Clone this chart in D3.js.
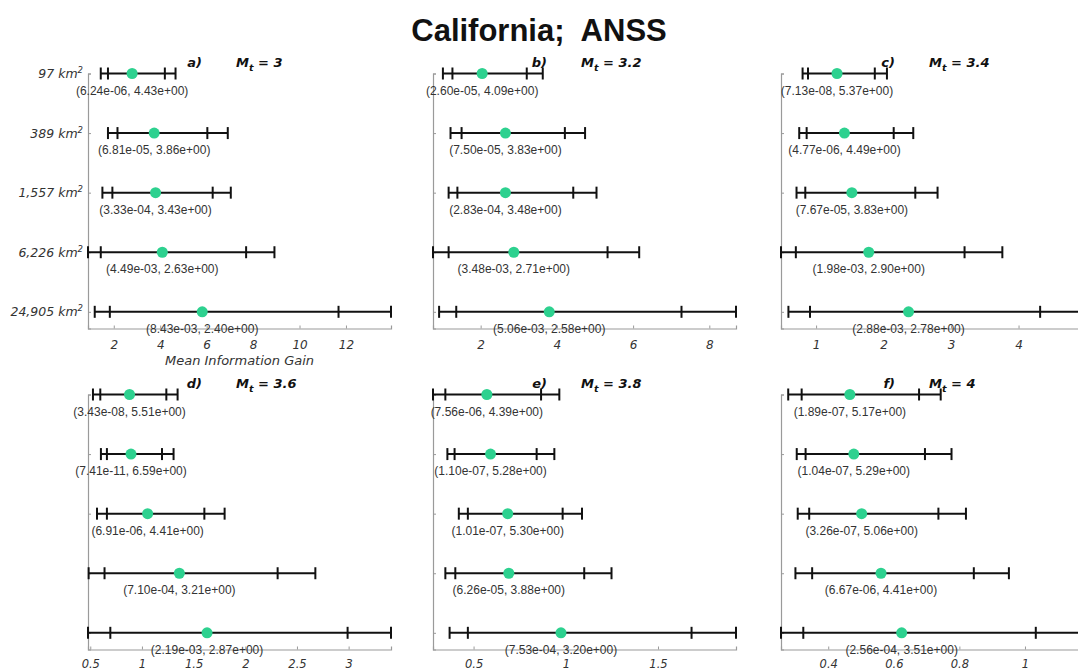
<!DOCTYPE html>
<html>
<head>
<meta charset="utf-8">
<script src="https://cdn.jsdelivr.net/npm/d3@7"></script>
<style>
  html, body { margin: 0; padding: 0; background: #fff; }
  svg { display: block; }
</style>
</head>
<body>
<svg id="chart" width="1078" height="671"></svg>
<script>
// Region sizes (rows of every panel)
const areas = ["97", "389", "1,557", "6,226", "24,905"];

// Panel tags and target magnitudes
const panelTags = ["a)", "b)", "c)", "d)", "e)", "f)"];
const magnitudes = ["3", "3.2", "3.4", "3.6", "3.8", "4"];

// Mean information gain with two nested intervals, one row per region size
const outerLower = [
  [1.44, 1.75, 1.51, 0.89, 1.18],
  [1.01, 1.21, 1.16, 0.75, 0.91],
  [0.80, 0.75, 0.71, 0.48, 0.59],
  [0.526, 0.603, 0.565, 0.484, 0.478],
  [0.28, 0.358, 0.42, 0.347, 0.37],
  [0.278, 0.304, 0.307, 0.30, 0.256]
];
const innerLower = [
  [1.75, 2.16, 1.94, 1.44, 1.83],
  [1.26, 1.50, 1.39, 1.16, 1.36],
  [0.88, 0.86, 0.84, 0.70, 0.91],
  [0.597, 0.661, 0.661, 0.638, 0.694],
  [0.347, 0.397, 0.469, 0.401, 0.469],
  [0.319, 0.331, 0.342, 0.351, 0.324]
];
const meanGain = [
  [2.79, 3.74, 3.80, 4.09, 5.81],
  [2.04, 2.65, 2.65, 2.87, 3.80],
  [1.31, 1.42, 1.53, 1.78, 2.37],
  [0.880, 0.894, 1.055, 1.362, 1.63],
  [0.572, 0.592, 0.685, 0.691, 0.974],
  [0.466, 0.478, 0.502, 0.561, 0.624]
];
const innerUpper = [
  [4.20, 6.03, 6.26, 7.70, 11.68],
  [3.21, 4.21, 4.43, 5.33, 7.27],
  [1.87, 2.15, 2.47, 3.20, 4.32],
  [1.236, 1.194, 1.604, 2.313, 2.99],
  [0.866, 0.842, 0.983, 1.10, 1.682],
  [0.677, 0.695, 0.736, 0.844, 1.033]
];
const outerUpper = [
  [4.66, 6.91, 7.04, 8.92, 13.94],
  [3.63, 4.74, 5.04, 6.16, 8.70],
  [2.05, 2.44, 2.80, 3.76, 4.97],
  [1.345, 1.306, 1.80, 2.678, 3.41],
  [0.965, 0.938, 1.088, 1.248, 1.923],
  [0.743, 0.776, 0.82, 0.951, 1.18]
];

// Test statistics printed under each interval
const statLabels = [
  ["(6.24e-06, 4.43e+00)", "(6.81e-05, 3.86e+00)", "(3.33e-04, 3.43e+00)", "(4.49e-03, 2.63e+00)", "(8.43e-03, 2.40e+00)"],
  ["(2.60e-05, 4.09e+00)", "(7.50e-05, 3.83e+00)", "(2.83e-04, 3.48e+00)", "(3.48e-03, 2.71e+00)", "(5.06e-03, 2.58e+00)"],
  ["(7.13e-08, 5.37e+00)", "(4.77e-06, 4.49e+00)", "(7.67e-05, 3.83e+00)", "(1.98e-03, 2.90e+00)", "(2.88e-03, 2.78e+00)"],
  ["(3.43e-08, 5.51e+00)", "(7.41e-11, 6.59e+00)", "(6.91e-06, 4.41e+00)", "(7.10e-04, 3.21e+00)", "(2.19e-03, 2.87e+00)"],
  ["(7.56e-06, 4.39e+00)", "(1.10e-07, 5.28e+00)", "(1.01e-07, 5.30e+00)", "(6.26e-05, 3.88e+00)", "(7.53e-04, 3.20e+00)"],
  ["(1.89e-07, 5.17e+00)", "(1.04e-07, 5.29e+00)", "(3.26e-07, 5.06e+00)", "(6.67e-06, 4.41e+00)", "(2.56e-04, 3.51e+00)"]
];

// Axis tick values per panel
const xTicks = [
  [2, 4, 6, 8, 10, 12],
  [2, 4, 6, 8],
  [1, 2, 3, 4],
  [0.5, 1, 1.5, 2, 2.5, 3],
  [0.5, 1, 1.5],
  [0.4, 0.6, 0.8, 1]
];

const svg = d3.select("#chart");
const SANS = "'Liberation Sans', Arial, sans-serif";
const WIDE = "'DejaVu Sans', Verdana, sans-serif";
const DOT = "#2dd18f";
const AXIS = "#9a9a9a";

// Figure title
svg.append("text")
  .attr("x", 539).attr("y", 41)
  .attr("text-anchor", "middle")
  .attr("font-family", SANS)
  .attr("font-weight", "bold")
  .attr("font-size", 31)
  .attr("fill", "#111")
  .attr("xml:space", "preserve")
  .text("California;  ANSS");

// Grid of panels: 3 columns x 2 rows
const colLeft = [88, 433, 781];
const rowTop = [73.5, 394.5];
const plotW = 303, plotH = 255;

panelTags.forEach((tag, p) => {
  const left = colLeft[p % 3];
  const gridRow = Math.floor(p / 3);
  const top = rowTop[gridRow];
  const g = svg.append("g");

  const x = d3.scaleLinear()
    .domain([d3.min(outerLower[p]), d3.max(outerUpper[p])])
    .range([left, left + plotW]);
  const y = d3.scaleLinear().domain([1, 5.28]).range([top, top + plotH]);

  // Bottom axis, ticks pointing inward (lower row sits tight on the page edge)
  const xAxis = d3.axisBottom(x).tickValues(xTicks[p]).tickSize(-3)
    .tickPadding(gridRow === 0 ? 11.5 : 10)
    .tickFormat(d3.format("~g"));
  const ga = g.append("g").attr("transform", `translate(0,${top + plotH})`).call(xAxis);
  ga.select(".domain").attr("stroke", AXIS).attr("stroke-width", 1.2);
  ga.selectAll(".tick line").attr("stroke", AXIS);
  ga.selectAll(".tick text")
    .attr("font-family", WIDE).attr("font-style", "italic")
    .attr("font-size", gridRow === 0 ? 12 : 11.5).attr("fill", "#333").attr("dy", "0.72em");

  // Left axis, ticks pointing inward
  const yAxis = d3.axisLeft(y).tickValues([1, 2, 3, 4, 5]).tickSize(-3).tickFormat("");
  const gy = g.append("g").attr("transform", `translate(${left},0)`).call(yAxis);
  gy.select(".domain").attr("stroke", AXIS).attr("stroke-width", 1.2);
  gy.selectAll(".tick line").attr("stroke", AXIS);

  if (p === 0) {
    // Region size labels
    areas.forEach((a, i) => {
      const t = g.append("text")
        .attr("x", left - 5).attr("y", y(i + 1) + 4.5)
        .attr("text-anchor", "end")
        .attr("font-family", WIDE).attr("font-style", "italic")
        .attr("font-size", 12.5).attr("fill", "#333");
      t.append("tspan").text(a + " km");
      t.append("tspan").attr("font-size", 8.5).attr("dy", -5).text("2");
    });
    // Axis label
    g.append("text")
      .attr("x", left + plotW / 2).attr("y", top + plotH + 36)
      .attr("text-anchor", "middle")
      .attr("font-family", WIDE).attr("font-style", "italic")
      .attr("font-size", 13).attr("fill", "#333")
      .text("Mean Information Gain");
  }

  // Panel heading: tag and magnitude threshold
  g.append("text")
    .attr("x", left + 114).attr("y", top - 7)
    .attr("text-anchor", "end")
    .attr("font-family", WIDE).attr("font-weight", "bold").attr("font-style", "italic")
    .attr("font-size", 13).attr("fill", "#111")
    .text(tag);
  const mt = g.append("text")
    .attr("x", left + 148).attr("y", top - 7)
    .attr("font-family", WIDE).attr("font-weight", "bold").attr("font-style", "italic")
    .attr("font-size", 13).attr("fill", "#111")
    .attr("xml:space", "preserve");
  mt.append("tspan").text("M");
  mt.append("tspan").attr("font-size", 9.5).attr("dy", 4).text("t");
  mt.append("tspan").attr("dy", -4).text(" = " + magnitudes[p]);

  // Interval bars
  const rows = d3.range(5);
  g.selectAll(".bar").data(rows).enter().append("line")
    .attr("x1", i => x(outerLower[p][i])).attr("x2", i => x(outerUpper[p][i]))
    .attr("y1", i => y(i + 1)).attr("y2", i => y(i + 1))
    .attr("stroke", "#111").attr("stroke-width", 2);

  const caps = [];
  rows.forEach(i => {
    [outerLower, innerLower, innerUpper, outerUpper].forEach(arr => caps.push({ v: arr[p][i], r: i }));
  });
  g.selectAll(".cap").data(caps).enter().append("line")
    .attr("x1", d => x(d.v)).attr("x2", d => x(d.v))
    .attr("y1", d => y(d.r + 1) - 6).attr("y2", d => y(d.r + 1) + 6)
    .attr("stroke", "#111").attr("stroke-width", 2);

  g.selectAll(".dot").data(rows).enter().append("circle")
    .attr("cx", i => x(meanGain[p][i])).attr("cy", i => y(i + 1))
    .attr("r", 5.5).attr("fill", DOT);

  // Statistic labels centred under each mean
  g.selectAll(".stat").data(rows).enter().append("text")
    .attr("x", i => x(meanGain[p][i])).attr("y", i => y(i + 1) + 21)
    .attr("text-anchor", "middle")
    .attr("font-family", SANS).attr("font-size", 12).attr("fill", "#333")
    .text(i => statLabels[p][i]);
});
</script>
</body>
</html>
